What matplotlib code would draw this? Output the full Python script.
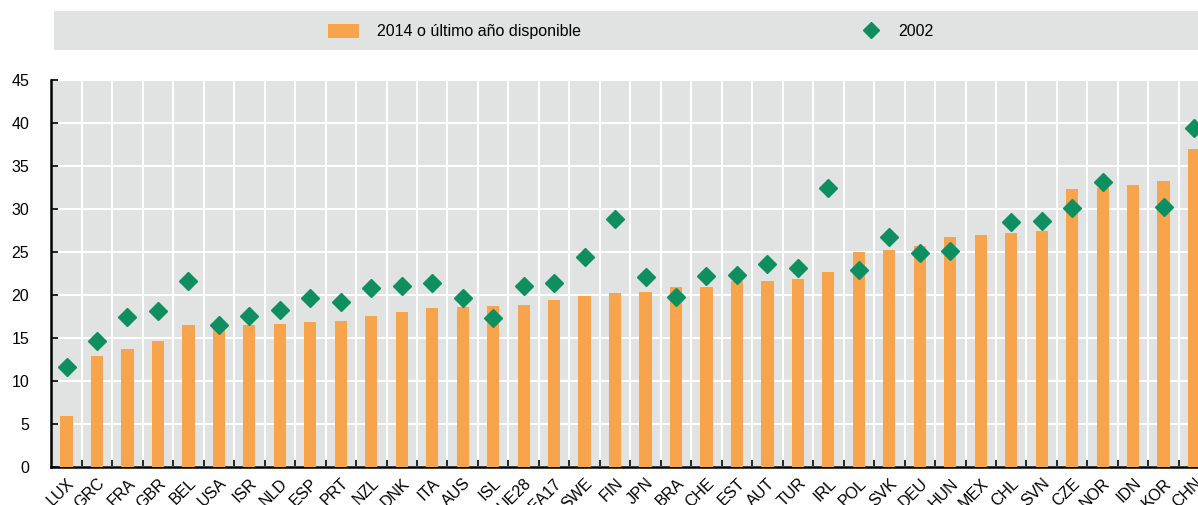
import matplotlib
matplotlib.use('Agg')
import matplotlib.pyplot as plt
import matplotlib.transforms as mtransforms
from matplotlib.patches import Rectangle, Patch
from matplotlib.lines import Line2D
import numpy as np

plt.rcParams['font.family'] = ['Liberation Sans Narrow', 'Liberation Sans', 'DejaVu Sans']
plt.rcParams['font.size'] = 11.5

countries = ['LUX', 'GRC', 'FRA', 'GBR', 'BEL', 'USA', 'ISR', 'NLD', 'ESP', 'PRT',
             'NZL', 'DNK', 'ITA', 'AUS', 'ISL', 'UE28', 'EA17', 'SWE', 'FIN', 'JPN',
             'BRA', 'CHE', 'EST', 'AUT', 'TUR', 'IRL', 'POL', 'SVK', 'DEU', 'HUN',
             'MEX', 'CHL', 'SVN', 'CZE', 'NOR', 'IDN', 'KOR', 'CHN']
val_2014 = [6.0, 12.9, 13.8, 14.7, 16.5, 16.4, 16.5, 16.7, 16.9, 17.0,
            17.6, 18.0, 18.5, 18.6, 18.7, 18.9, 19.4, 19.9, 20.3, 20.4,
            20.9, 20.9, 21.6, 21.7, 21.9, 22.7, 25.0, 25.3, 25.7, 26.8,
            27.0, 27.2, 27.4, 32.3, 32.4, 32.8, 33.3, 37.0]
val_2002 = [11.7, 14.7, 17.5, 18.2, 21.6, 16.5, 17.6, 18.3, 19.7, 19.2,
            20.8, 21.1, 21.4, 19.7, 17.4, 21.1, 21.4, 24.4, 28.8, 22.1,
            19.8, 22.2, 22.4, 23.6, 23.1, 32.5, 22.9, 26.8, 24.9, 25.1,
            np.nan, 28.5, 28.6, 30.1, 33.2, np.nan, 30.2, 39.4]
legend_labels = ['2014 o último año disponible', '2002']

ORANGE = '#f8a44c'
GREEN = '#0f8e5f'
GRAY = '#e1e3e2'

W, H = 1198, 505
fig = plt.figure(figsize=(W / 100, H / 100), dpi=100)

# legend band
fig.patches.append(Rectangle((54 / W, 1 - 50 / H), 1 - 54 / W, 39 / H,
                             transform=fig.transFigure, facecolor=GRAY,
                             edgecolor='none', zorder=0))

ax = fig.add_axes([51.3 / W, (H - 467.3) / H, 1158 / W, (467.3 - 80) / H])
ax.set_facecolor(GRAY)

x = np.arange(len(countries))
ax.bar(x, val_2014, width=0.4, color=ORANGE, zorder=3)
ax.plot(x, val_2002, linestyle='none', marker='D', markersize=9.5,
        color=GREEN, markeredgecolor=GREEN, zorder=4)

ax.set_xlim(-0.5, len(countries) - 0.5)
ax.set_ylim(0, 45)
ax.set_yticks(np.arange(0, 46, 5))
ax.set_xticks(x)
ax.set_xticks(np.arange(0.5, len(countries) - 0.5, 1), minor=True)
ax.set_xticklabels(countries, rotation=45, ha='right', rotation_mode='anchor')

offset = mtransforms.ScaledTranslation(3 / 100, 0, fig.dpi_scale_trans)
for lab in ax.get_xticklabels():
    lab.set_transform(lab.get_transform() + offset)

ax.tick_params(axis='x', which='major', length=0, pad=6)
ax.tick_params(axis='x', which='minor', direction='in', length=5, width=1.2)
ax.tick_params(axis='y', direction='in', length=5, width=1.2, pad=16)

ax.grid(True, axis='y', which='major', color='white', linewidth=1.5, zorder=1)
ax.grid(True, axis='x', which='minor', color='white', linewidth=1.5, zorder=1)
ax.set_axisbelow(True)

for side in ['top', 'right']:
    ax.spines[side].set_visible(False)
ax.spines['left'].set_linewidth(1.8)
ax.spines['bottom'].set_linewidth(1.8)

# legend entries
h1 = Patch(facecolor=ORANGE, edgecolor='none')
fig.legend([h1], [legend_labels[0]], loc='center left',
           bbox_to_anchor=(328 / W, 1 - 31.5 / H), frameon=False,
           borderpad=0, borderaxespad=0, handlelength=1.94, handleheight=0.94,
           handletextpad=1.1)
h2 = Line2D([], [], linestyle='none', marker='D', markersize=8,
            color=GREEN, markeredgecolor=GREEN)
fig.legend([h2], [legend_labels[1]], loc='center left',
           bbox_to_anchor=(863 / W, 1 - 31.5 / H), frameon=False,
           borderpad=0, borderaxespad=0, handlelength=1.0,
           handletextpad=1.2)

fig.savefig('out.png', dpi=100)
